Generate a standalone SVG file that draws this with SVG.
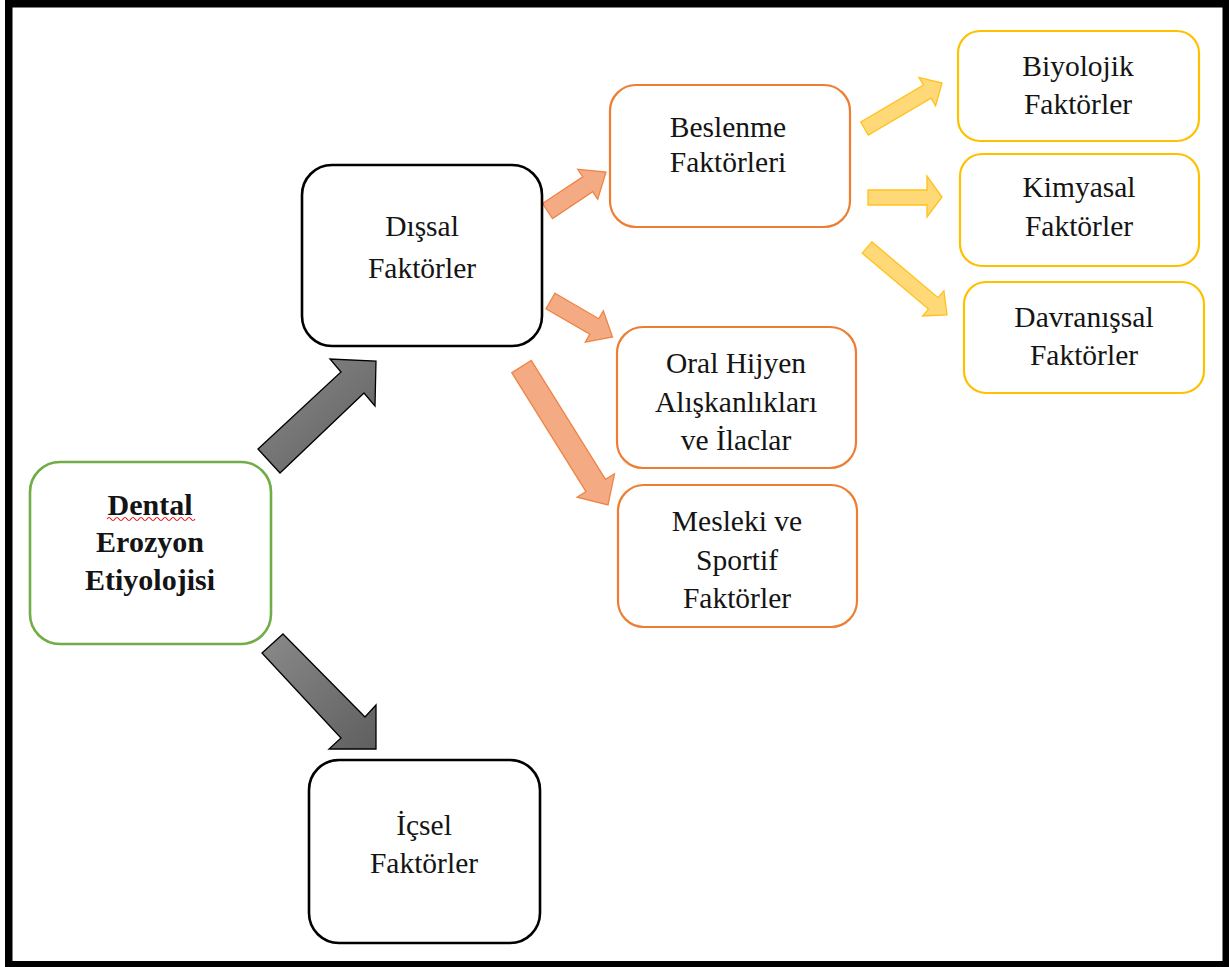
<svg xmlns="http://www.w3.org/2000/svg" width="1229" height="967" viewBox="0 0 1229 967">
<defs>
<linearGradient id="gray" x1="0" y1="0" x2="1" y2="1">
<stop offset="0" stop-color="#8a8a8a"/>
<stop offset="1" stop-color="#5f5f5f"/>
</linearGradient>
<style>
.t{font-family:"Liberation Serif","Times New Roman",serif;font-size:29.5px;fill:#141414;text-anchor:middle}
.b{font-weight:bold;font-size:30px}
.blk{fill:#fff;stroke:#000;stroke-width:2.6}
.grn{fill:#fff;stroke:#70AD47;stroke-width:2.6}
.org{fill:#fff;stroke:#ED7D31;stroke-width:2.2}
.yel{fill:#fff;stroke:#FFC000;stroke-width:2.2}
.ga{fill:url(#gray);stroke:#000;stroke-width:1.3;stroke-linejoin:miter}
.oa{fill:#F4AA82;stroke:#EE8446;stroke-width:1.3}
.ya{fill:#FFD878;stroke:#FFC21A;stroke-width:1.3}
</style>
</defs>
<rect x="0" y="0" width="1229" height="967" fill="#fff"/>
<path d="M5 0H1229V967H5Z M12.5 7.5V961H1222.5V7.5Z" fill="#000" fill-rule="evenodd"/>

<g id="connectors">
<polygon class="ga" points="258,449 341,372 330,359 376,361 375,406 364,393 280,473"/>
<polygon class="ga" points="283,634 365,717 376,705 376,749 329,749 341,738 262,653"/>
<polygon class="oa" points="542.5,203.5 582.7,176.7 577.7,169.2 606,172 597.7,199.2 592.7,191.7 552.5,218.5"/>
<polygon class="oa" points="555,293.2 598.8,318.7 603.3,310.9 612.5,337 585.3,342.1 589.8,334.3 546,308.8"/>
<polygon class="oa" points="531.25,360.4 605.5,479.4 614.5,473.8 608,505 577.1,497.2 586,491.6 511.75,372.6"/>
<polygon class="ya" points="860.7,122 923.5,85.1 919,77.4 942,83 935.6,105.8 931.1,98.1 868.3,135"/>
<polygon class="ya" points="868,190 927,190 927,176 942,197 927,217 927,205 868,205"/>
<polygon class="ya" points="871.8,241.8 938.1,297.7 943.9,290.8 947,315 922.6,316 928.4,309.1 862.2,253.2"/>
</g>

<g id="dental">
<rect class="grn" x="30" y="462" width="241" height="182" rx="30"/>
<text class="t b" x="150" y="515">Dental</text>
<path d="M107 519 q2 -3 4 0 t4 0 t4 0 t4 0 t4 0 t4 0 t4 0 t4 0 t4 0 t4 0 t4 0 t4 0 t4 0 t4 0 t4 0 t4 0 t4 0 t4 0 t4 0 t4 0 t4 0 t4 0" fill="none" stroke="#e02020" stroke-width="1.2"/>
<text class="t b" x="150" y="552">Erozyon</text>
<text class="t b" x="150" y="590">Etiyolojisi</text>
</g>

<g id="dissal">
<rect class="blk" x="302" y="165" width="240" height="181" rx="30"/>
<text class="t" x="422" y="236">Dışsal</text>
<text class="t" x="422" y="278">Faktörler</text>
</g>

<g id="icsel">
<rect class="blk" x="309" y="760" width="231" height="183" rx="30"/>
<text class="t" x="424" y="835">İçsel</text>
<text class="t" x="424" y="873">Faktörler</text>
</g>

<g id="beslenme">
<rect class="org" x="610" y="85" width="240" height="142" rx="26"/>
<text class="t" x="728" y="137">Beslenme</text>
<text class="t" x="728" y="172">Faktörleri</text>
</g>

<g id="oral">
<rect class="org" x="617" y="327" width="239" height="141" rx="26"/>
<text class="t" x="736" y="373">Oral Hijyen</text>
<text class="t" x="736" y="412">Alışkanlıkları</text>
<text class="t" x="736" y="450">ve İlaclar</text>
</g>

<g id="mesleki">
<rect class="org" x="618" y="485" width="239" height="142" rx="26"/>
<text class="t" x="737" y="531">Mesleki ve</text>
<text class="t" x="737" y="570">Sportif</text>
<text class="t" x="737" y="608">Faktörler</text>
</g>

<g id="biyolojik">
<rect class="yel" x="958" y="31" width="241" height="110" rx="22"/>
<text class="t" x="1078" y="76">Biyolojik</text>
<text class="t" x="1078" y="114">Faktörler</text>
</g>

<g id="kimyasal">
<rect class="yel" x="960" y="154" width="239" height="112" rx="22"/>
<text class="t" x="1079" y="197">Kimyasal</text>
<text class="t" x="1079" y="236">Faktörler</text>
</g>

<g id="davranissal">
<rect class="yel" x="964" y="282" width="240" height="111" rx="22"/>
<text class="t" x="1084" y="327">Davranışsal</text>
<text class="t" x="1084" y="365">Faktörler</text>
</g>
</svg>
